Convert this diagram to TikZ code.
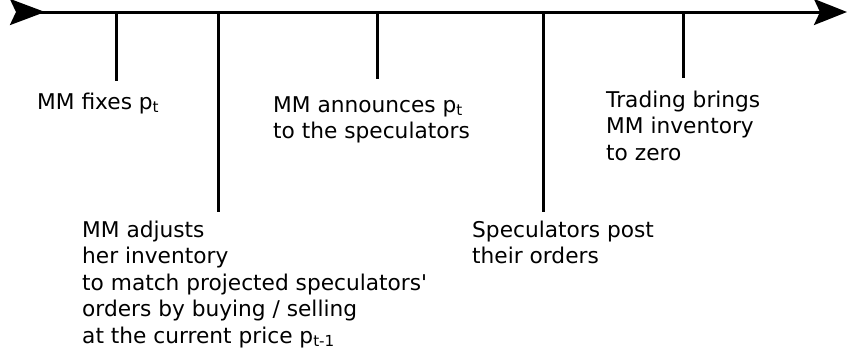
\documentclass[tikz,border=0pt]{standalone}
\usepackage{fontspec}
\setmainfont{DejaVu Sans}
\usetikzlibrary{arrows.meta}
\newcommand\mylines[1]{\vtop{\baselineskip=26.5pt\halign{##\hfil\cr#1\crcr}}}
\begin{document}
\begin{tikzpicture}[x=1pt,y=-1pt,
  lbl/.style={anchor=base west,inner sep=0pt,font=\fontsize{21.7}{26.5}\selectfont},
  tick/.style={line width=3pt},
  axis/.style={line width=3pt,{Stealth[reversed,length=35pt,width=26pt,inset=6pt]}-{Stealth[length=33pt,width=26pt,inset=6pt]}}]
\useasboundingbox (0,0) rectangle (847,360);
\coordinate (L) at (10,12);
\coordinate (R) at (847,12);
\draw[axis] (L) -- (R);
\coordinate (t1) at (116,12); \coordinate (b1) at (116,81);
\coordinate (t2) at (218,12); \coordinate (b2) at (218,212);
\coordinate (t3) at (377,12); \coordinate (b3) at (377,79);
\coordinate (t4) at (543,12); \coordinate (b4) at (543,212);
\coordinate (t5) at (683,12); \coordinate (b5) at (683,78);
\draw[tick] (t1) -- (b1);
\draw[tick] (t2) -- (b2);
\draw[tick] (t3) -- (b3);
\draw[tick] (t4) -- (b4);
\draw[tick] (t5) -- (b5);
\node[lbl] (n1) at (37,109) {\mylines{MM fixes p\textsubscript{t}}};
\node[lbl] (n2) at (82,237) {\mylines{MM adjusts\cr her inventory\cr to match projected speculators\textquotesingle\cr orders by buying / selling\cr at the current price p\textsubscript{t-1}}};
\node[lbl] (n3) at (273,112) {\mylines{MM announces p\textsubscript{t}\cr to the speculators}};
\node[lbl] (n4) at (472,237) {\mylines{Speculators post\cr their orders}};
\node[lbl] (n5) at (606,107) {\mylines{Trading brings\cr MM inventory\cr to zero}};
\end{tikzpicture}
\end{document}
